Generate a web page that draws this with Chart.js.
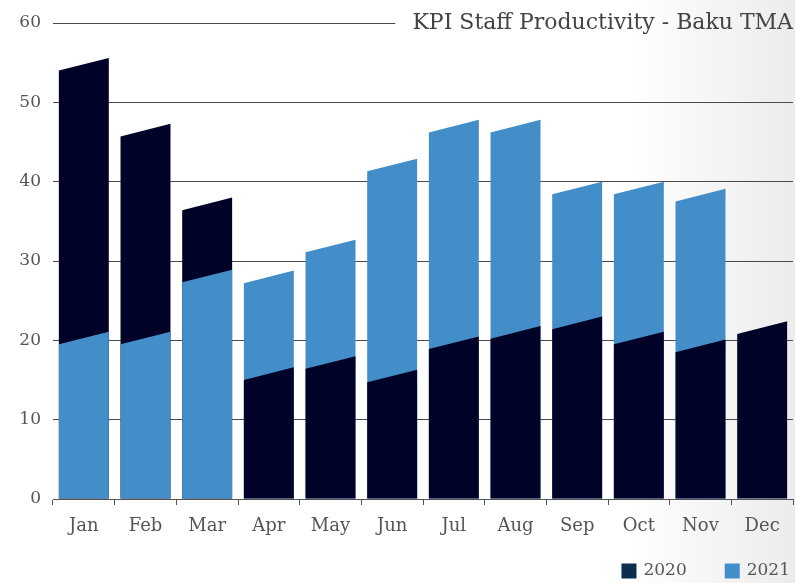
<!DOCTYPE html>
<html>
<head>
<meta charset="utf-8">
<title>KPI Staff Productivity - Baku TMA</title>
<script src="https://cdn.jsdelivr.net/npm/chart.js@4.4.0/dist/chart.umd.min.js"></script>
<style>
  html, body { margin: 0; padding: 0; }
  body {
    width: 795px; height: 583px; overflow: hidden;
    background: linear-gradient(90deg, #fff 0%, #fff 79%, #ececec 100%);
  }
  #wrap { position: relative; width: 795px; height: 583px; }
</style>
</head>
<body>
<div id="wrap"><canvas id="kpi"></canvas></div>
<script>
'use strict';

// ── data ──────────────────────────────────────────────────────────────────────

const months = ['Jan', 'Feb', 'Mar', 'Apr', 'May', 'Jun', 'Jul', 'Aug', 'Sep', 'Oct', 'Nov', 'Dec'];
const staff2020 = [54.8, 46.5, 37.2, 15.8, 17.2, 15.5, 19.7, 21.0, 22.2, 20.3, 19.3, 21.6];
const staff2021 = [20.3, 20.3, 28.1, 28.0, 31.9, 42.1, 47.0, 47.0, 39.2, 39.2, 38.3, null];
const yMin = 0, yMax = 60, yStep = 10;
const titleText = 'KPI Staff Productivity - Baku TMA';

// ── look ──────────────────────────────────────────────────────────────────────

const FONT = '"DejaVu Serif", "Liberation Serif", serif';
const TXT = '#555555';
const DARK = '#000228';
const LIGHT = '#438ec9';
const LEGEND_DARK = '#0b2e4f';

// bars overlap in one slot; the taller one goes behind, top edge is tilted
const slantBars = {
  id: 'slantBars',
  beforeDatasetsDraw(chart) {
    const ctx = chart.ctx;
    const sets = chart.data.datasets;
    ctx.save();
    months.forEach((m, idx) => {
      const bars = sets
        .map((ds, di) => ({ ds, v: ds.data[idx], el: chart.getDatasetMeta(di).data[idx] }))
        .filter(b => b.v !== null && b.v !== undefined && b.el)
        .sort((a, b) => b.v - a.v);
      bars.forEach(b => {
        const { x, y, base, width } = b.el.getProps(['x', 'y', 'base', 'width'], true);
        const half = width / 2;
        const tilt = width * 0.126;
        ctx.beginPath();
        ctx.moveTo(x - half, base);
        ctx.lineTo(x - half, y + tilt);
        ctx.lineTo(x + half, y - tilt);
        ctx.lineTo(x + half, base);
        ctx.closePath();
        ctx.fillStyle = b.ds.backgroundColor;
        ctx.fill();
      });
    });
    ctx.restore();
    return false;
  }
};

// title sits on the top grid line, which stops short of it; legend bottom right
const titleLegend = {
  id: 'titleLegend',
  afterDraw(chart) {
    const ctx = chart.ctx;
    const area = chart.chartArea;
    const yTop = Math.round(chart.scales.y.getPixelForValue(yMax)) + 0.5;
    ctx.save();
    ctx.font = '22px ' + FONT;
    ctx.fillStyle = '#444';
    ctx.textAlign = 'right';
    ctx.textBaseline = 'middle';
    const tw = ctx.measureText(titleText).width;
    ctx.fillText(titleText, area.right, yTop);
    ctx.strokeStyle = '#4a4a4a';
    ctx.lineWidth = 1;
    ctx.beginPath();
    ctx.moveTo(area.left, yTop);
    ctx.lineTo(area.right - tw - 17, yTop);
    ctx.stroke();

    // legend
    ctx.font = '17px ' + FONT;
    ctx.textAlign = 'left';
    const items = chart.data.datasets.map(ds => ({ text: ds.label, color: ds.legendColor })).reverse();
    let right = 790;
    const cy = 571;
    items.forEach(it => {
      const w = ctx.measureText(it.text).width;
      const tx = right - w;
      ctx.fillStyle = TXT;
      ctx.fillText(it.text, tx, cy);
      ctx.fillStyle = it.color;
      ctx.fillRect(tx - 7 - 15, cy - 7.5, 15, 15);
      right = tx - 7 - 15 - 38;
    });
    ctx.restore();
  }
};

new Chart(document.getElementById('kpi'), {
  type: 'bar',
  data: {
    labels: months,
    datasets: [
      { label: '2020', data: staff2020, backgroundColor: DARK, legendColor: LEGEND_DARK, grouped: false },
      { label: '2021', data: staff2021, backgroundColor: LIGHT, legendColor: LIGHT, grouped: false },
    ]
  },
  options: {
    responsive: true,
    maintainAspectRatio: false,
    animation: false,
    barPercentage: 0.81,
    categoryPercentage: 1,
    layout: { padding: { top: 23, right: 2, left: 0, bottom: 0 } },
    plugins: {
      legend: { display: false },
      title: { display: false },
      tooltip: { enabled: false },
    },
    scales: {
      x: {
        afterFit(scale) { scale.height = 84; },
        grid: { drawOnChartArea: false, drawTicks: true, tickLength: 6, color: '#555', offset: true },
        border: { display: true, color: '#555' },
        ticks: { color: TXT, font: { family: FONT, size: 18 }, padding: 11 },
      },
      y: {
        min: yMin, max: yMax,
        afterFit(scale) { scale.width = 53; },
        grid: {
          drawTicks: false,
          color: ctx => (ctx.tick && ctx.tick.value === yMax ? 'rgba(0,0,0,0)' : '#4a4a4a'),
        },
        border: { display: false },
        ticks: { stepSize: yStep, color: TXT, font: { family: FONT, size: 17 }, padding: 12 },
      },
    },
  },
  plugins: [slantBars, titleLegend],
});
</script>
</body>
</html>
